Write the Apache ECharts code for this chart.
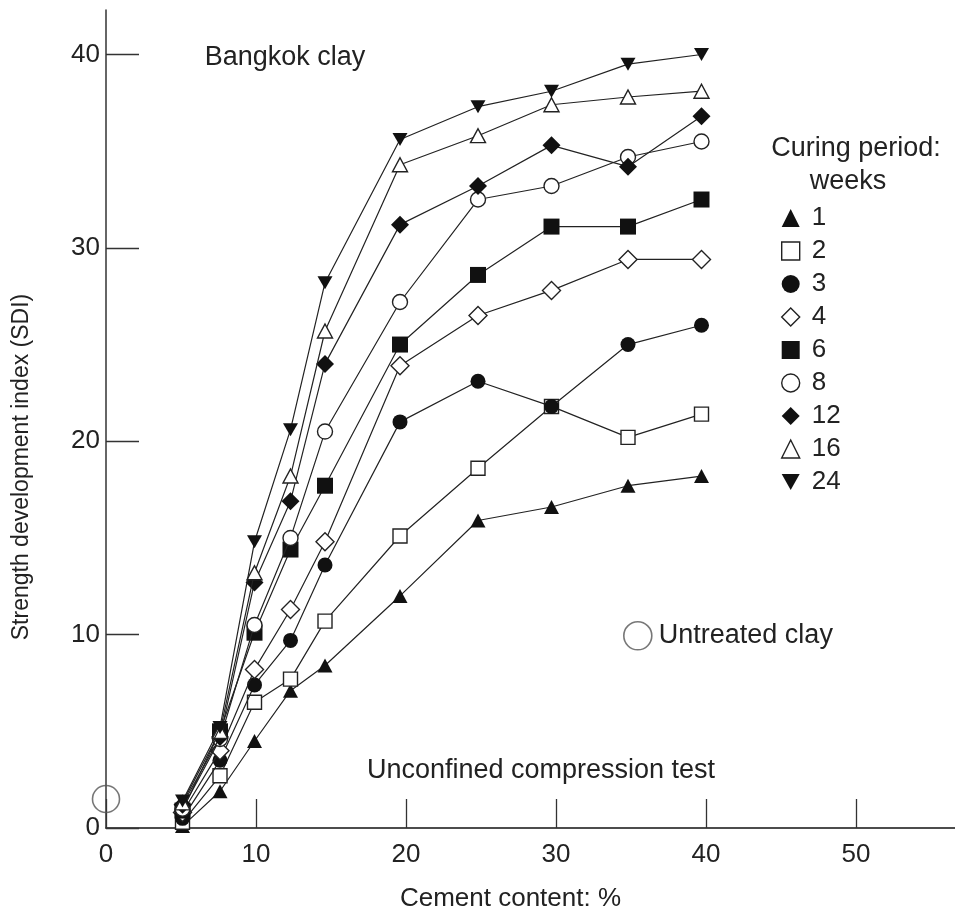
<!DOCTYPE html>
<html>
<head>
<meta charset="utf-8">
<script src="https://cdn.jsdelivr.net/npm/echarts@6/dist/echarts.min.js"></script>
<style>html,body{margin:0;padding:0;background:#fff;}#c{width:955px;height:917px;}</style>
</head>
<body>
<div id="c"></div>
<script>
// ---- data ----
const cement = [5.1, 7.6, 9.9, 12.3, 14.6, 19.6, 24.8, 29.7, 34.8, 39.7];
const weekNames = ['1', '2', '3', '4', '6', '8', '12', '16', '24'];
const wk1  = [0.1, 1.9, 4.5, 7.1, 8.4, 12.0, 15.9, 16.6, 17.7, 18.2];
const wk2  = [0.3, 2.7, 6.5, 7.7, 10.7, 15.1, 18.6, 21.8, 20.2, 21.4];
const wk3  = [0.5, 3.5, 7.4, 9.7, 13.6, 21.0, 23.1, 21.8, 25.0, 26.0];
const wk4  = [0.8, 4.0, 8.2, 11.3, 14.8, 23.9, 26.5, 27.8, 29.4, 29.4];
const wk6  = [0.9, 5.0, 10.1, 14.4, 17.7, 25.0, 28.6, 31.1, 31.1, 32.5];
const wk8  = [1.0, 4.6, 10.5, 15.0, 20.5, 27.2, 32.5, 33.2, 34.7, 35.5];
const wk12 = [1.2, 4.7, 12.7, 16.9, 24.0, 31.2, 33.2, 35.3, 34.2, 36.8];
const wk16 = [1.3, 5.0, 13.2, 18.2, 25.7, 34.3, 35.8, 37.4, 37.8, 38.1];
const wk24 = [1.4, 5.2, 14.8, 20.6, 28.2, 35.6, 37.3, 38.1, 39.5, 40.0];
const untreatedName = 'Untreated clay';
const untreated = [[0, 1.5]];
const xTicks = [0, 10, 20, 30, 40, 50];
const yTicks = [0, 10, 20, 30, 40];

// ---- styling ----
const FONT = 'Liberation Sans, Arial, sans-serif';
const TXT = '#222';
const INK = '#111';
const downTri = 'path://M0,0L20,0L10,18Z';
const seriesValues = [wk1, wk2, wk3, wk4, wk6, wk8, wk12, wk16, wk24];
const symbols = ['triangle', 'rect', 'circle', 'diamond', 'rect', 'circle', 'diamond', 'triangle', downTri];
const filled  = [true, false, true, false, true, false, true, false, true];
const sizes   = [[15, 14], 14, 15, [18, 18], 16, 15, [18, 18], [15, 14], [15, 13]];

function itemStyleFor(i) {
  return filled[i]
    ? { color: INK, borderColor: INK, borderWidth: 0 }
    : { color: '#fff', borderColor: '#222', borderWidth: 1.4 };
}

const series = seriesValues.map((vals, i) => ({
  name: weekNames[i],
  type: 'line',
  data: cement.map((x, k) => [x, vals[k]]),
  symbol: symbols[i],
  symbolSize: sizes[i],
  showAllSymbol: true,
  lineStyle: { color: '#222', width: 1.2 },
  itemStyle: itemStyleFor(i),
  z: 2 + i,
  animation: false
}));
series.push({
  name: untreatedName,
  type: 'scatter',
  data: untreated,
  symbol: 'circle',
  symbolSize: 27,
  clip: false,
  itemStyle: { color: 'rgba(255,255,255,0)', borderColor: '#555', borderWidth: 1.6 },
  z: 20,
  animation: false
});

const chart = echarts.init(document.getElementById('c'), null, { renderer: 'canvas' });
chart.setOption({
  animation: false,
  backgroundColor: '#fff',
  grid: { left: 106, right: 0, top: 10, bottom: 85, containLabel: false },
  xAxis: [{
    type: 'value', min: 0, max: 56.6,
    axisLine: { show: true, onZero: false, lineStyle: { color: '#333', width: 1.5 } },
    axisTick: { show: true, inside: true, length: 29, customValues: xTicks, lineStyle: { color: '#333', width: 1.3 } },
    axisLabel: { customValues: xTicks, fontSize: 26, fontFamily: FONT, color: TXT, margin: 14 },
    splitLine: { show: false },
    name: 'Cement content: %', nameLocation: 'middle', nameGap: 58,
    nameTextStyle: { fontSize: 26, fontFamily: FONT, color: TXT, padding: [0, 40, 0, 0] }
  }, {
    type: 'value', position: 'top', min: 0, max: 56.6,
    axisLine: { show: true, lineStyle: { color: '#444', width: 1.5 } },
    axisTick: { show: false }, axisLabel: { show: false }, splitLine: { show: false }
  }],
  yAxis: {
    type: 'value', min: 0, max: 42.3,
    axisLine: { show: true, onZero: false, lineStyle: { color: '#333', width: 1.5 } },
    axisTick: { show: true, inside: true, length: 33, customValues: yTicks, lineStyle: { color: '#333', width: 1.3 } },
    axisLabel: { customValues: yTicks, fontSize: 26, fontFamily: FONT, color: TXT, margin: 6 },
    splitLine: { show: false }
  },
  legend: [{
    orient: 'vertical', left: 776, top: 200,
    itemWidth: 18, itemHeight: 18, itemGap: 7,
    selectedMode: false,
    textStyle: { fontSize: 26, fontFamily: FONT, color: TXT, padding: [0, 0, 0, 7] },
    data: weekNames.map((n, i) => ({
      name: n,
      icon: symbols[i],
      itemStyle: itemStyleFor(i)
    }))
  }, {
    orient: 'horizontal', left: 618, top: 616,
    itemWidth: 28, itemHeight: 28, selectedMode: false,
    textStyle: { fontSize: 27, fontFamily: FONT, color: TXT, padding: [0, 0, 0, 2] },
    data: [{ name: untreatedName, icon: 'circle', itemStyle: { color: '#fff', borderColor: '#555', borderWidth: 1.6 } }]
  }],
  graphic: [
    { type: 'text', x: 285, y: 58, style: { text: 'Bangkok clay', font: '27px ' + FONT, fill: TXT, align: 'center', verticalAlign: 'middle' } },
    { type: 'text', x: 541, y: 771, style: { text: 'Unconfined compression test', font: '27px ' + FONT, fill: TXT, align: 'center', verticalAlign: 'middle' } },
    { type: 'text', x: 856, y: 149, style: { text: 'Curing period:', font: '27px ' + FONT, fill: TXT, align: 'center', verticalAlign: 'middle' } },
    { type: 'text', x: 848, y: 182, style: { text: 'weeks', font: '27px ' + FONT, fill: TXT, align: 'center', verticalAlign: 'middle' } },
    { type: 'text', x: 22, y: 467, rotation: Math.PI / 2, style: { text: 'Strength development index (SDI)', font: '23px ' + FONT, fill: TXT, align: 'center', verticalAlign: 'middle' } }
  ],
  series: series
});
</script>
</body>
</html>
